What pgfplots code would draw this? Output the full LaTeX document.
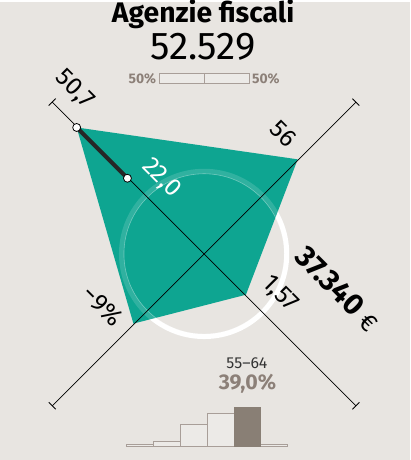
\documentclass[border=0pt]{standalone}
\usepackage{fontspec}
\setmainfont{Fira Sans}
\usepackage{pgfplots}
\pgfplotsset{compat=1.18}
\definecolor{bg}{RGB}{232,229,225}
\definecolor{teal1}{RGB}{14,165,145}
\definecolor{gtext}{RGB}{140,128,120}
\definecolor{gline}{RGB}{168,158,152}
\definecolor{gbar}{RGB}{137,127,117}
\definecolor{lbar}{RGB}{236,234,231}
\begin{document}
\begin{tikzpicture}
\begin{axis}[name=main, at={(0,0)}, anchor=south west, width=412bp, height=460bp, scale only axis,
  xmin=0, xmax=412, ymin=0, ymax=460, y dir=reverse, axis lines=none, xtick=\empty, ytick=\empty, clip=false]
\fill[bg] (axis cs:0,0) rectangle (axis cs:412,460);
% titles
\node[font=\bfseries\fontsize{28.5}{33}\selectfont, anchor=base, inner sep=0pt] at (axis cs:204,21) {Agenzie fiscali};
\node[font=\fontsize{39}{45}\selectfont, anchor=base, inner sep=0pt] at (axis cs:204,58) {52.529};
\node[font=\bfseries\fontsize{14}{16}\selectfont, text=gtext, anchor=base east, inner sep=0pt] at (axis cs:157,82) {50\%};
\node[font=\bfseries\fontsize{14}{16}\selectfont, text=gtext, anchor=base west, inner sep=0pt] at (axis cs:253,82) {50\%};
\draw[gline, line width=0.8bp, fill=lbar] (axis cs:160,72) rectangle (axis cs:250,82);
\draw[gline, line width=0.8bp] (axis cs:205,72) -- (axis cs:205,82);
% circle under polygon
\draw[white, line width=5bp] (axis cs:205,253) circle[radius=83bp];
% polygon
\addplot[fill=teal1, draw=none] coordinates {(77,126) (299,158) (247,294) (134,323)} -- cycle;
\draw[white, opacity=0.14, line width=5bp] (axis cs:205,253) circle[radius=83bp];
\draw[white, opacity=0.35, line width=0.6bp] (axis cs:205,253) circle[radius=80.5bp];
% axes lines
\addplot[black, line width=0.7bp] coordinates {(52.5,100.5) (357.5,405.5)};
\addplot[black, line width=0.7bp] coordinates {(357.5,100.5) (52.5,405.5)};
\draw[black, line width=0.9bp] (axis cs:49,104) -- (axis cs:56,97);
\draw[black, line width=0.9bp] (axis cs:354,97) -- (axis cs:361,104);
\draw[black, line width=0.9bp] (axis cs:49,402) -- (axis cs:56,409);
\draw[black, line width=0.9bp] (axis cs:354,409) -- (axis cs:361,402);
% thick segment and dots
\addplot[black!85, line width=4bp] coordinates {(77,126) (128,177)};
\addplot[only marks, mark=*, mark size=4bp, mark options={fill=white, draw=black, line width=0.8bp}] coordinates {(77,126) (128,177)};
% labels
\node[font=\fontsize{25}{30}\selectfont, rotate=-45, inner sep=0pt] at (axis cs:75,88) {50,7};
\node[font=\fontsize{25}{30}\selectfont, rotate=-45, text=white, inner sep=0pt] at (axis cs:162,177) {22,0};
\node[font=\fontsize{25}{30}\selectfont, rotate=-45, inner sep=0pt] at (axis cs:285,132) {56};
\node[font=\fontsize{25}{30}\selectfont, rotate=-45, inner sep=0pt] at (axis cs:281,293) {1,57};
\node[font=\fontsize{25}{30}\selectfont, rotate=-45, inner sep=0pt] at (axis cs:103,305) {−9\%};
\node[rotate=-45, inner sep=0pt] at (axis cs:339,288) {\fontsize{30}{34}\selectfont\bfseries 37.340 \mdseries\fontsize{25}{30}\selectfont €};
% age label
\node[font=\fontsize{16}{19}\selectfont, text=black!80, anchor=base, inner sep=0pt] at (axis cs:248,368) {55–64};
\node[font=\bfseries\fontsize{21.5}{25}\selectfont, text=gtext, anchor=base, inner sep=0pt] at (axis cs:248.5,389) {39,0\%};
\end{axis}
\begin{axis}[at={(127bp,14bp)}, anchor=south west, width=162bp, height=39bp, scale only axis,
  xmin=0.5, xmax=6.5, ymin=0, ymax=39, axis lines=none, xtick=\empty, ytick=\empty, clip=false,
  ybar, bar width=27bp]
\addplot[draw=gline, fill=lbar, line width=0.9bp, bar shift=0pt] coordinates {(1,1.5) (2,5) (3,21.5) (4,33) (6,1.5)};
\addplot[draw=gbar, fill=gbar, line width=0.9bp, bar shift=0pt] coordinates {(5,39)};
\end{axis}
\end{tikzpicture}
\end{document}
